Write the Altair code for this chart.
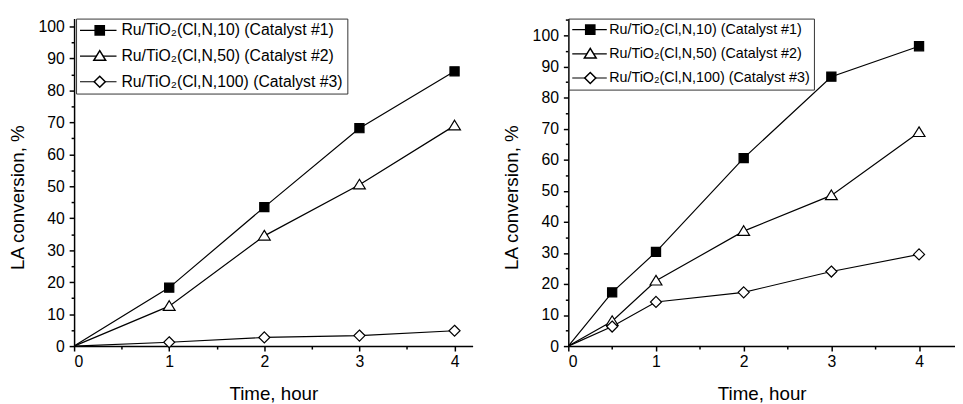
import altair as alt
import pandas as pd

cat_names = [
    "Ru/TiO₂(Cl,N,10) (Catalyst #1)",
    "Ru/TiO₂(Cl,N,50) (Catalyst #2)",
    "Ru/TiO₂(Cl,N,100) (Catalyst #3)",
]

# Left panel
left_time = [0, 1, 2, 3, 4]
left_c1 = [0, 18.3, 43.5, 68.2, 86.0]
left_c2 = [0, 12.5, 34.5, 50.5, 69.0]
left_c3 = [0, 1.2, 2.7, 3.3, 4.8]

# Right panel
right_time = [0, 0.5, 1, 2, 3, 4]
right_c1 = [0, 17.3, 30.3, 60.5, 86.7, 96.5]
right_c2 = [0, 8.0, 21.0, 37.0, 48.5, 68.8]
right_c3 = [0, 6.3, 14.2, 17.3, 24.0, 29.5]

x_ticks = [0, 0.5, 1, 1.5, 2, 2.5, 3, 3.5, 4]
y_ticks_left = list(range(0, 101, 5))
y_ticks_right = list(range(0, 106, 5))


def make_df(times, series):
    rows = []
    for name, vals in zip(cat_names, series):
        for t, v in zip(times, vals):
            rows.append({"time": t, "conv": v, "cat": name})
    return pd.DataFrame(rows)


df_left = make_df(left_time, [left_c1, left_c2, left_c3])
df_right = make_df(right_time, [right_c1, right_c2, right_c3])

# marker shapes (unit paths)
MARK_SQ = "M-0.93,-0.93L0.93,-0.93L0.93,0.93L-0.93,0.93Z"
MARK_TRI = "M0,-1.1L1.2,0.85L-1.2,0.85Z"
MARK_DIA = "M0,-1.12L1.12,0L0,1.12L-1.12,0Z"

FONT = "Liberation Sans"


def panel(df, width, height, xmax, ymax, yticks, leg):
    xscale = alt.Scale(domain=[0, xmax], nice=False, zero=False)
    yscale = alt.Scale(domain=[0, ymax], nice=False)
    xe = alt.X(
        "time:Q", scale=xscale,
        axis=alt.Axis(
            values=x_ticks,
            labelExpr="datum.value % 1 === 0 ? format(datum.value, 'd') : ''",
            tickSize={"condition": {"test": "datum.value % 1 === 0", "value": 5}, "value": 3},
            title="Time, hour", titlePadding=15, labelPadding=3,
        ),
    )
    ye = alt.Y(
        "conv:Q", scale=yscale,
        axis=alt.Axis(
            values=yticks,
            labelExpr="datum.value % 10 === 0 ? format(datum.value, 'd') : ''",
            tickSize={"condition": {"test": "datum.value % 10 === 0", "value": 5}, "value": 3},
            title="LA conversion, %", titlePadding=11, labelPadding=5,
            titleY=181,
        ),
    )
    common = dict(
        title=None, orient="none", legendX=leg["x"], legendY=0,
        labelLimit=500, labelFontSize=leg["fs"], labelFont=FONT, labelColor="black",
        padding=4, rowPadding=leg["rp"], clipHeight=leg["fs"],
    )
    # legend drawing the line part of each legend key (no labels)
    line_legend = alt.Legend(
        symbolType="stroke", symbolSize=leg["L"] ** 2, symbolStrokeWidth=1.2,
        symbolStrokeColor="black", labelExpr="''",
        symbolOffset=leg["sA"], labelOffset=leg["lA"], **common,
    )
    # legend drawing the marker part, labels and the frame
    mark_legend = alt.Legend(
        strokeColor="#333333",
        symbolOffset=leg["sB"], labelOffset=leg["lB"], **common,
    )
    base = alt.Chart(df)
    lines = base.mark_line(strokeWidth=1.2).encode(
        x=xe, y=ye,
        stroke=alt.Stroke(
            "cat:N", sort=cat_names,
            scale=alt.Scale(range=["black", "black", "black"]),
            legend=line_legend,
        ),
    )
    points = (
        base.transform_filter("datum.time > 0")
        .mark_point(filled=True, stroke="black", strokeWidth=1.2, opacity=1, size=100)
        .encode(
            x=xe,
            y=ye,
            shape=alt.Shape(
                "cat:N",
                scale=alt.Scale(domain=cat_names, range=[MARK_SQ, MARK_TRI, MARK_DIA]),
                legend=mark_legend,
            ),
            fill=alt.Fill(
                "cat:N",
                scale=alt.Scale(domain=cat_names, range=["black", "white", "white"]),
                legend=mark_legend,
            ),
        )
    )
    return alt.layer(lines, points).properties(width=width, height=height)


left = panel(df_left, 404, 332, 4.19, 102.5, y_ticks_left,
             dict(x=2, fs=16, rp=10, L=38, sA=-2, lA=1, sB=12, lB=14))
right = panel(df_right, 392, 332, 4.41, 105.4, y_ticks_right,
              dict(x=0, fs=14.5, rp=8.5, L=36, sA=-2, lA=0, sB=11, lB=12))

chart = (
    alt.hconcat(left, right, spacing=30)
    .resolve_scale(fill="independent", shape="independent", stroke="independent")
    .resolve_legend(fill="independent", shape="independent", stroke="independent")
    .properties(padding={"left": 0, "top": 7, "right": 0, "bottom": 0})
    .configure_view(strokeWidth=0)
    .configure_axis(
        grid=False,
        ticks=True,
        domainColor="black",
        domainWidth=1.5,
        tickColor="black",
        tickWidth=1.5,
        labelColor="black",
        titleColor="black",
        labelFont=FONT,
        titleFont=FONT,
        labelFontSize=16,
        titleFontSize=19,
        titleFontWeight="normal",
    )
)

chart.save("out.html", embed_options={"renderer": "svg", "actions": False})
